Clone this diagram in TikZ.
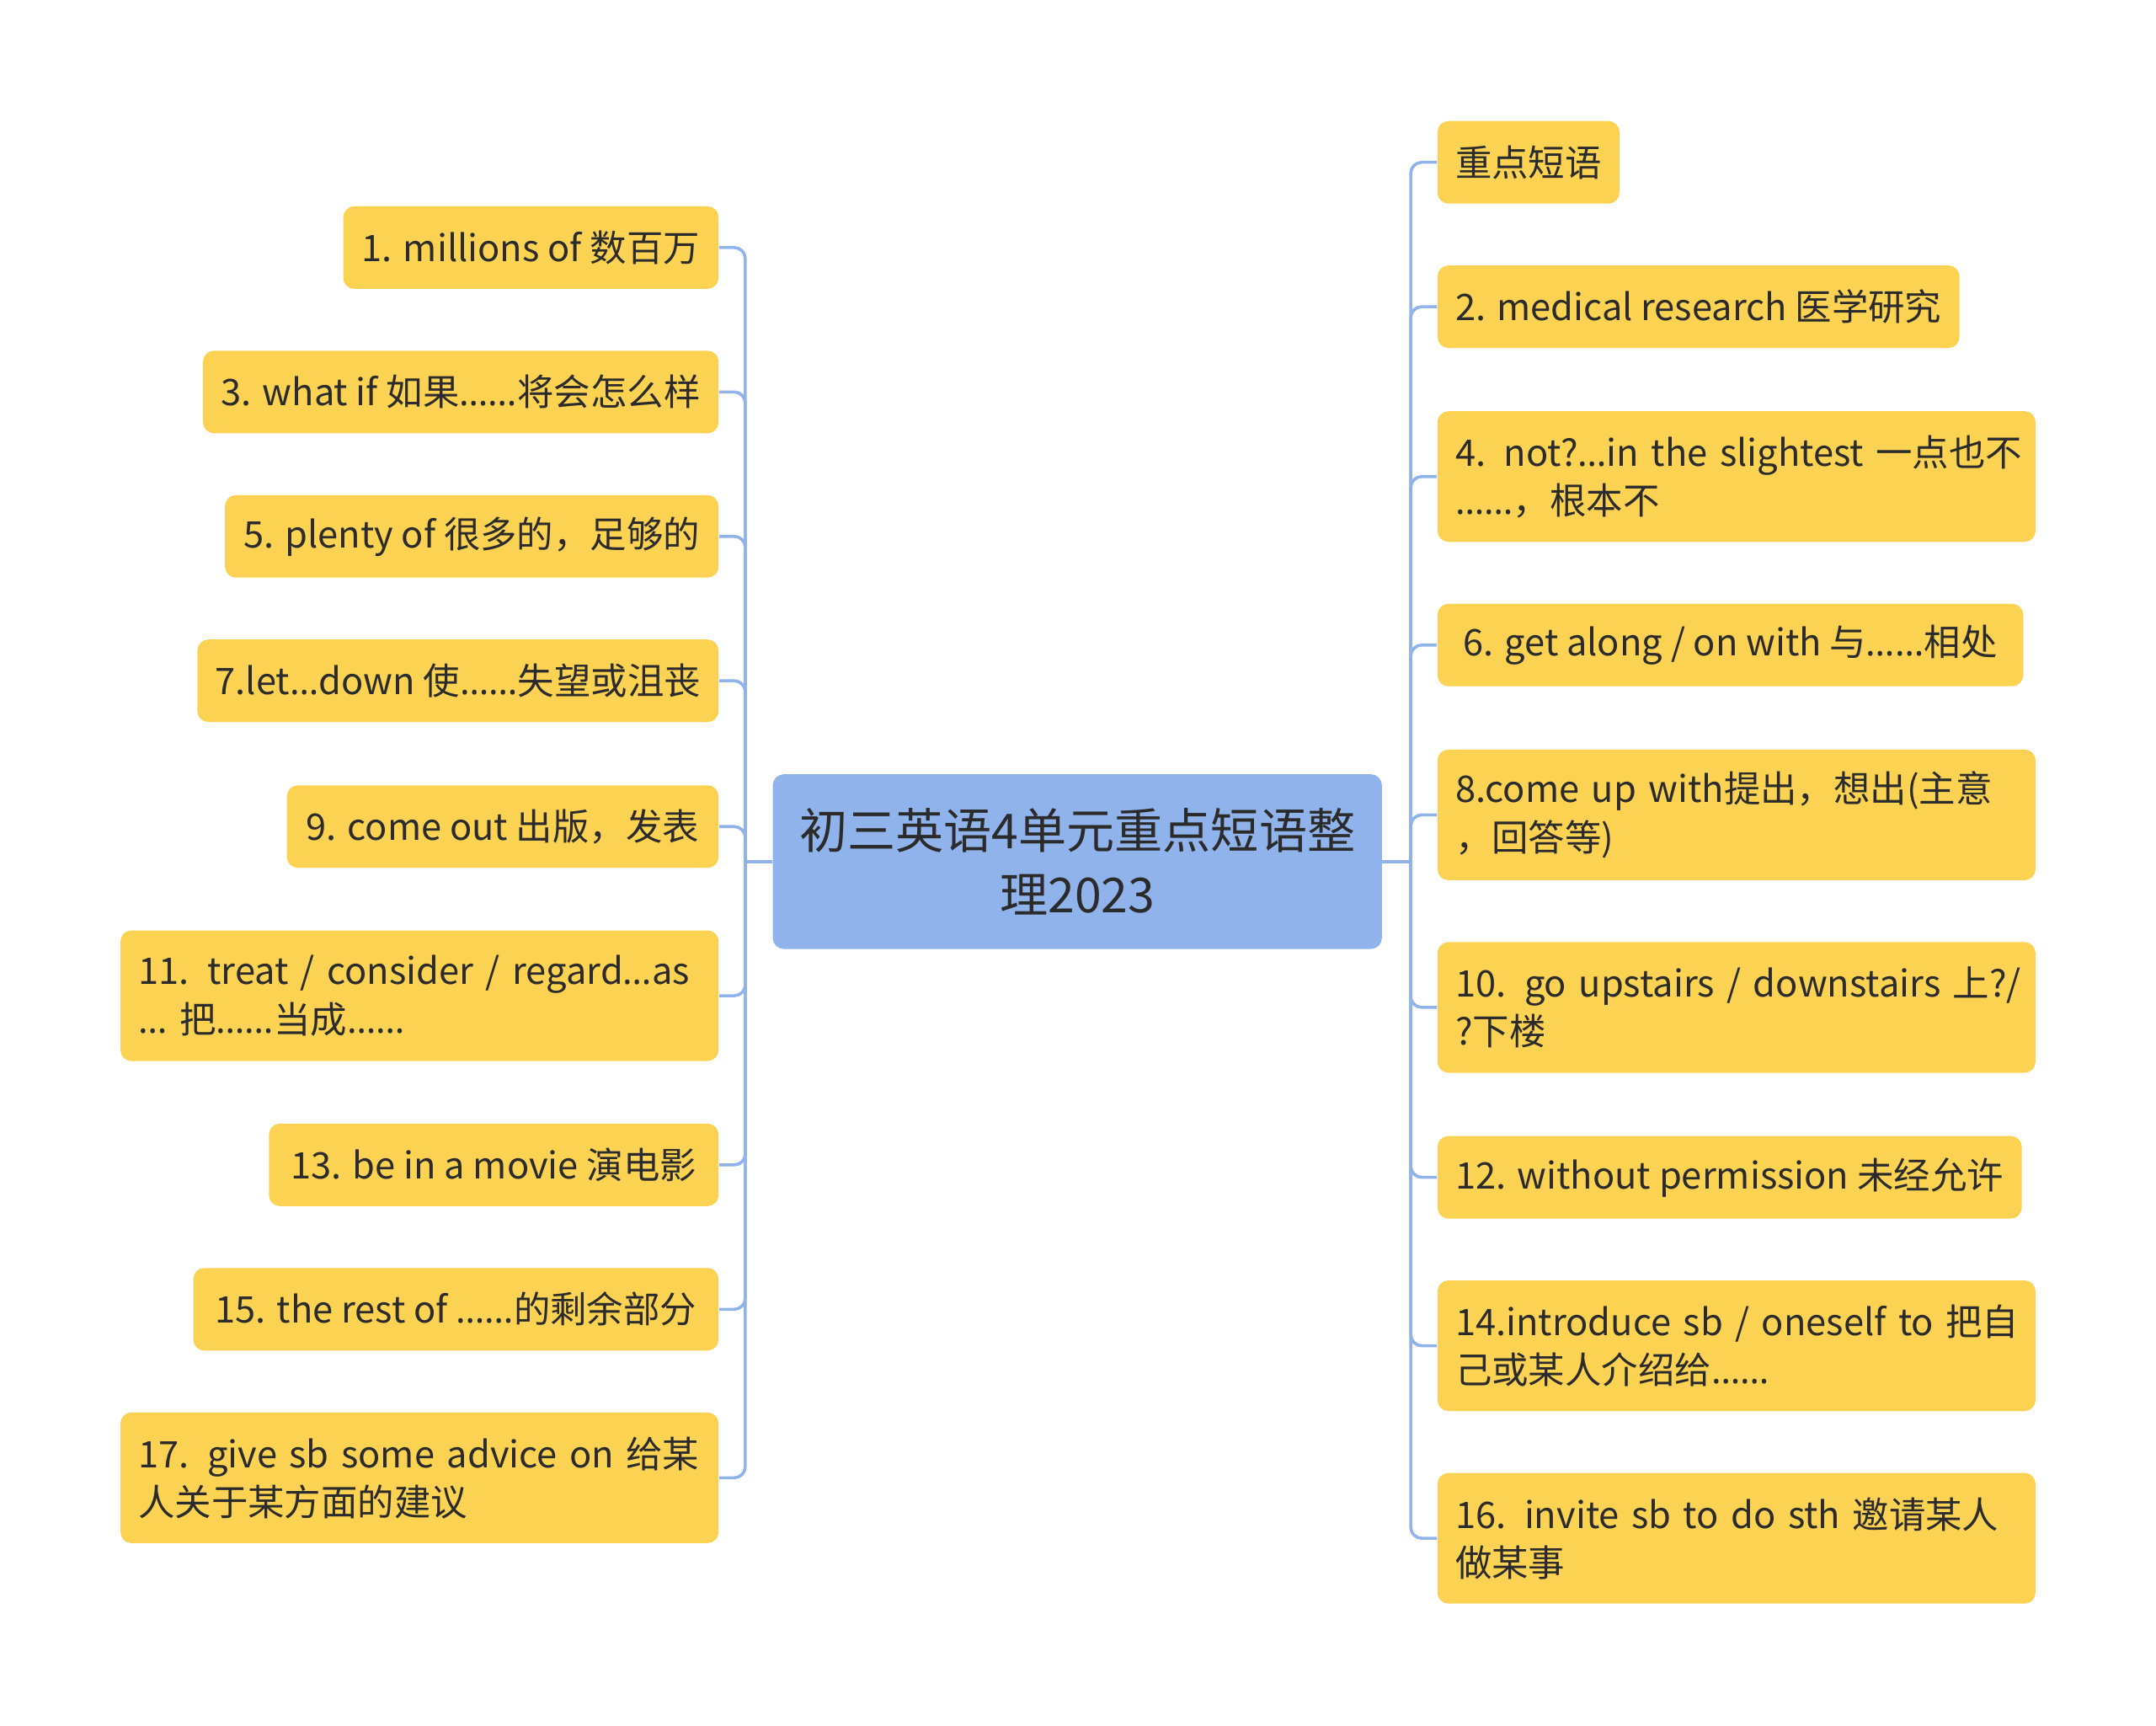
\documentclass[tikz,border=0pt]{standalone}
\usepackage{fontspec}
\setmainfont{Noto Sans CJK SC}
\newfontfamily\elfont{Noto Sans}
\newcommand\el{{\elfont …}}
\newcommand\lineof[1]{\mbox{#1}}
\definecolor{leafyellow}{RGB}{252,210,83}
\definecolor{rootblue}{RGB}{143,179,234}
\definecolor{linkblue}{RGB}{143,179,234}
\definecolor{textdark}{RGB}{43,43,43}
\tikzset{
  leaf/.style={fill=leafyellow, rounded corners=4pt, inner xsep=6.5pt, inner ysep=0pt,
    minimum height=30pt, font=\fontsize{13.3}{17.5}\selectfont, text=textdark, align=left},
  leafL/.style={leaf, anchor=east},
  leafR/.style={leaf, anchor=west},
  tall/.style={minimum height=47.5pt, text width=204.5pt},
  rootbox/.style={fill=rootblue, rounded corners=4pt, minimum width=221.5pt, minimum height=63.5pt,
    font=\fontsize{17.5}{23}\selectfont, text=textdark, align=center, inner sep=0pt},
  conn/.style={draw=linkblue, line width=1.1pt, rounded corners=4pt}
}
\begin{document}
\begin{tikzpicture}[x=0.5pt, y=-0.5pt]
\useasboundingbox (0,0) rectangle (1568,1255);
\node[rootbox] (c) at (783.5,626.5) {初三英语4单元重点短语整\\理2023};
\coordinate (jl) at (542,626.5);
\coordinate (jr) at (1026,626.5);
% left nodes
\node[leafL, minimum width=136.5pt] (l1) at (523,180) {1. millions of 数百万};
\node[leafL, minimum width=187.5pt] (l3) at (523,285) {3. what if 如果\el\el 将会怎么样};
\node[leafL, minimum width=179.5pt] (l5) at (523,390) {5. plenty of 很多的，足够的};
\node[leafL, minimum width=189.5pt] (l7) at (523,495) {7.let\el down 使\el\el 失望或沮丧};
\node[leafL, minimum width=157pt] (l9) at (523,601) {9. come out 出版，发表};
\node[leafL, tall] (l11) at (523,724) {\lineof{11. treat / consider / regard\el as}\\\lineof{\el{} 把\el\el 当成\el\el}};
\node[leafL, minimum width=163.5pt] (l13) at (523,847) {13. be in a movie 演电影};
\node[leafL, minimum width=191pt] (l15) at (523,952) {15. the rest of \el\el 的剩余部分};
\node[leafL, tall] (l17) at (523,1074.5) {\lineof{17. give sb some advice on 给某}\\\lineof{人关于某方面的建议}};
% right nodes
\node[leafR, minimum width=65pt] (r0) at (1045,118) {重点短语};
\node[leafR, minimum width=189.5pt] (r2) at (1045,223) {2. medical research 医学研究};
\node[leafR, tall] (r4) at (1045,346.5) {\lineof{4. not?\el in the slightest 一点也不}\\\lineof{\el\el ，根本不}};
\node[leafR, minimum width=213pt] (r6) at (1045,469) {6. get along / on with 与\el\el 相处};
\node[leafR, tall] (r8) at (1045,592.5) {\lineof{8.come up with提出，想出(主意}\\\lineof{，回答等)}};
\node[leafR, tall] (r10) at (1045,732.5) {\lineof{10. go upstairs / downstairs 上?/}\\\lineof{?下楼}};
\node[leafR, minimum width=212.5pt] (r12) at (1045,856) {12. without permission 未经允许};
\node[leafR, tall] (r14) at (1045,978.5) {\lineof{14.introduce sb / oneself to 把自}\\\lineof{己或某人介绍给\el\el}};
\node[leafR, tall] (r16) at (1045,1118.5) {\lineof{16. invite sb to do sth 邀请某人}\\\lineof{做某事}};
% connectors
\draw[conn] (c.west) -- (jl);
\draw[conn] (c.east) -- (jr);
\foreach \n in {l1,l3,l5,l7,l9,l11,l13,l15,l17} {
  \draw[conn] (jl) |- (\n.east);
}
\foreach \n in {r0,r2,r4,r6,r8,r10,r12,r14,r16} {
  \draw[conn] (jr) |- (\n.west);
}
\end{tikzpicture}
\end{document}
